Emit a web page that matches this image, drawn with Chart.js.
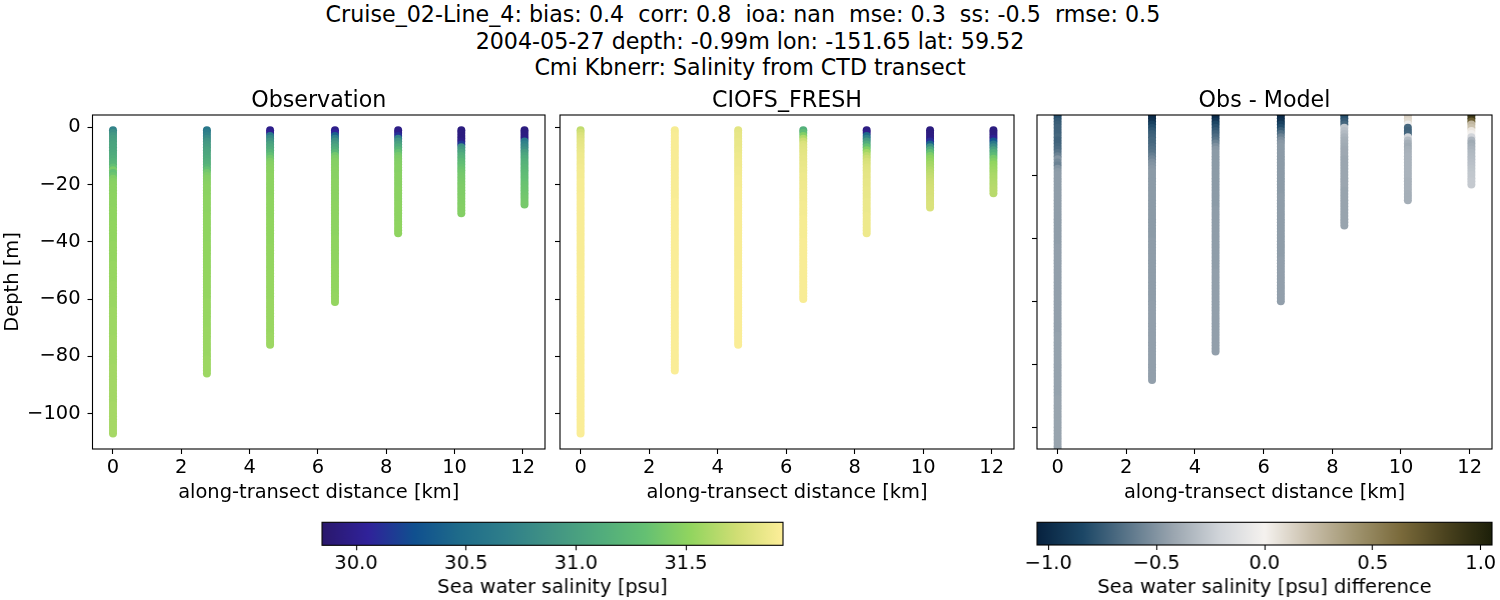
<!DOCTYPE html>
<html>
<head>
<meta charset="utf-8">
<style>
  html, body { margin: 0; padding: 0; background: #fff; width: 1500px; height: 600px; overflow: hidden; }
  canvas { position: absolute; }
  #suptitle { position: absolute; left: 0; top: 0; width: 1500px; text-align: center; white-space: pre;
    font: 22.2px/26.6px "DejaVu Sans"; color: #000; padding-top: 1px; }
</style>
<script src="https://cdn.jsdelivr.net/npm/chart.js@4/dist/chart.umd.js"></script>
</head>
<body>
<div id="suptitle">Cruise_02-Line_4: bias: 0.4  corr: 0.8  ioa: nan  mse: 0.3  ss: -0.5  rmse: 0.5  
2004-05-27 depth: -0.99m lon: -151.65 lat: 59.52
Cmi Kbnerr: Salinity from CTD transect</div>
<script>
const stationKm = [0, 2.75, 4.6, 6.5, 8.35, 10.2, 12.05];
const depthTicks = [0, -20, -40, -60, -80, -100];
const distanceTicks = [0, 2, 4, 6, 8, 10, 12];
const salinityTicks = [30, 30.5, 31, 31.5];
const differenceTicks = [-1, -0.5, 0, 0.5, 1];

// depth of the n-th sample in each cast
const depthLevels = [
  -1,-2,-3,-4,-5,-6,-7,-8,-9,-10,-11,-12,-13,-14,-15,-16,-17,-18,-19,-20,
  -21,-22,-23,-24,-25,-26,-27,-28,-29,-30,-31,-32,-33,-34,-35,-36,-37,-38,-39,-40,
  -41,-42,-43,-44,-45,-46,-47,-48,-49,-50,-51,-52,-53,-54,-55,-56,-57,-58,-59,-60,
  -61,-62,-63,-64,-65,-66,-67,-68,-69,-70,-71,-72,-73,-74,-75,-76,-77,-78,-79,-80,
  -81,-82,-83,-84,-85,-86,-87,-88,-89,-90,-91,-92,-93,-94,-95,-96,-97,-98,-99,-100,
  -101,-102,-103,-104,-105,-106,-107
];

const obsCast0 = [
  30.72,30.85,30.93,30.98,31.0,31.03,31.05,31.06,31.08,31.1,
  31.13,31.17,31.2,31.3,31.42,31.3,31.35,31.44,31.47,31.48,
  31.49,31.49,31.49,31.5,31.5,31.5,31.5,31.5,31.51,31.51,
  31.51,31.51,31.51,31.52,31.52,31.52,31.52,31.52,31.52,31.52,
  31.53,31.53,31.53,31.53,31.53,31.53,31.53,31.54,31.54,31.54,
  31.54,31.54,31.54,31.54,31.55,31.55,31.55,31.55,31.55,31.55,
  31.55,31.55,31.55,31.56,31.56,31.56,31.56,31.56,31.56,31.56,
  31.56,31.56,31.56,31.57,31.57,31.57,31.57,31.57,31.57,31.57,
  31.57,31.57,31.57,31.58,31.58,31.58,31.58,31.58,31.58,31.58,
  31.58,31.58,31.58,31.58,31.58,31.58,31.59,31.59,31.59,31.59,
  31.59,31.59,31.59,31.59,31.59,31.59,31.59
];
const obsCast1 = [
  30.6,30.66,30.72,30.8,30.88,30.93,30.97,31.01,31.04,31.06,
  31.09,31.12,31.15,31.2,31.3,31.38,31.43,31.46,31.47,31.48,
  31.49,31.49,31.49,31.49,31.5,31.5,31.5,31.5,31.5,31.5,
  31.51,31.51,31.51,31.51,31.51,31.51,31.51,31.51,31.51,31.51,
  31.52,31.52,31.52,31.52,31.52,31.52,31.52,31.52,31.52,31.52,
  31.53,31.53,31.53,31.53,31.53,31.53,31.53,31.53,31.53,31.53,
  31.54,31.54,31.54,31.54,31.54,31.54,31.54,31.54,31.54,31.54,
  31.55,31.55,31.55,31.55,31.55,31.55,31.55,31.55,31.55,31.55,
  31.56,31.56,31.56,31.56,31.56,31.56
];
const obsCast2 = [
  29.98,30.02,30.62,30.78,30.9,31.0,31.07,31.12,31.2,31.3,
  31.38,31.44,31.47,31.48,31.49,31.49,31.5,31.5,31.5,31.5,
  31.5,31.5,31.5,31.5,31.51,31.51,31.51,31.51,31.51,31.51,
  31.51,31.51,31.52,31.52,31.52,31.52,31.52,31.52,31.52,31.52,
  31.52,31.53,31.53,31.53,31.53,31.53,31.53,31.53,31.53,31.53,
  31.54,31.54,31.54,31.54,31.54,31.54,31.54,31.54,31.54,31.54,
  31.55,31.55,31.55,31.55,31.55,31.55,31.55,31.55,31.55,31.55,
  31.55,31.55,31.56,31.56,31.56,31.56
];
const obsCast3 = [
  29.98,30.05,30.4,30.68,30.85,30.95,31.05,31.12,31.22,31.38,
  31.43,31.46,31.47,31.47,31.48,31.48,31.48,31.48,31.49,31.49,
  31.49,31.49,31.49,31.49,31.49,31.49,31.5,31.5,31.5,31.5,
  31.5,31.5,31.5,31.5,31.5,31.5,31.5,31.5,31.51,31.51,
  31.51,31.51,31.51,31.51,31.51,31.51,31.51,31.51,31.52,31.52,
  31.52,31.52,31.52,31.52,31.52,31.52,31.52,31.52,31.53,31.53,
  31.53
];
const obsCast4 = [
  29.97,29.98,30.12,30.7,30.9,31.0,31.1,31.2,31.32,31.4,
  31.43,31.45,31.46,31.47,31.47,31.47,31.48,31.48,31.48,31.48,
  31.48,31.49,31.49,31.49,31.49,31.49,31.5,31.5,31.5,31.5,
  31.5,31.5,31.5,31.51,31.51,31.51,31.51
];
const obsCast5 = [
  29.93,29.93,29.93,29.93,29.97,30.15,30.85,30.95,31.05,31.13,
  31.18,31.24,31.28,31.32,31.35,31.37,31.39,31.4,31.41,31.42,
  31.43,31.43,31.44,31.44,31.45,31.45,31.45,31.46,31.46,31.46
];
const obsCast6 = [
  29.93,29.93,29.94,29.96,30.6,30.7,30.78,30.86,30.98,31.05,
  31.1,31.14,31.17,31.2,31.22,31.25,31.27,31.29,31.31,31.33,
  31.34,31.35,31.36,31.37,31.38,31.39,31.4
];

const modelCast0 = [
  31.68,31.74,31.78,31.8,31.82,31.83,31.84,31.85,31.86,31.87,
  31.87,31.88,31.88,31.89,31.89,31.9,31.9,31.9,31.91,31.91,
  31.91,31.91,31.91,31.92,31.92,31.92,31.92,31.92,31.92,31.92,
  31.92,31.92,31.92,31.92,31.92,31.92,31.92,31.92,31.92,31.92,
  31.92,31.92,31.92,31.92,31.92,31.92,31.92,31.92,31.92,31.92,
  31.93,31.93,31.93,31.93,31.93,31.93,31.93,31.93,31.93,31.93,
  31.93,31.93,31.93,31.93,31.93,31.93,31.93,31.93,31.93,31.93,
  31.93,31.93,31.93,31.93,31.93,31.93,31.93,31.93,31.93,31.93,
  31.93,31.93,31.93,31.93,31.93,31.93,31.93,31.93,31.93,31.93,
  31.93,31.93,31.93,31.93,31.93,31.93,31.93,31.93,31.93,31.93,
  31.93,31.93,31.93,31.93,31.93,31.93,31.93
];
const modelCast1 = [
  31.91,31.91,31.92,31.92,31.92,31.92,31.92,31.92,31.92,31.92,
  31.92,31.92,31.92,31.92,31.92,31.92,31.92,31.92,31.92,31.92,
  31.92,31.92,31.92,31.92,31.92,31.93,31.93,31.93,31.93,31.93,
  31.93,31.93,31.93,31.93,31.93,31.93,31.93,31.93,31.93,31.93,
  31.93,31.93,31.93,31.93,31.93,31.93,31.93,31.93,31.93,31.93,
  31.93,31.93,31.93,31.93,31.93,31.93,31.93,31.93,31.93,31.93,
  31.93,31.93,31.93,31.93,31.93,31.93,31.93,31.93,31.93,31.93,
  31.93,31.93,31.93,31.93,31.93,31.93,31.93,31.93,31.93,31.93,
  31.93,31.93,31.93,31.93,31.93
];
const modelCast2 = [
  31.82,31.83,31.84,31.84,31.85,31.85,31.85,31.86,31.86,31.87,
  31.87,31.88,31.88,31.88,31.89,31.89,31.89,31.9,31.9,31.9,
  31.9,31.91,31.91,31.91,31.91,31.91,31.92,31.92,31.92,31.92,
  31.92,31.92,31.92,31.92,31.92,31.92,31.92,31.92,31.92,31.92,
  31.92,31.92,31.92,31.92,31.92,31.92,31.92,31.92,31.92,31.92,
  31.93,31.93,31.93,31.93,31.93,31.93,31.93,31.93,31.93,31.93,
  31.93,31.93,31.93,31.93,31.93,31.93,31.93,31.93,31.93,31.93,
  31.93,31.93,31.93,31.93,31.93,31.93
];
const modelCast3 = [
  31.15,31.28,31.45,31.62,31.72,31.78,31.8,31.81,31.82,31.83,
  31.84,31.84,31.85,31.85,31.86,31.86,31.87,31.87,31.87,31.88,
  31.88,31.88,31.89,31.89,31.89,31.89,31.9,31.9,31.9,31.9,
  31.9,31.91,31.91,31.91,31.91,31.91,31.91,31.91,31.91,31.92,
  31.92,31.92,31.92,31.92,31.92,31.92,31.92,31.92,31.92,31.92,
  31.92,31.92,31.92,31.92,31.92,31.92,31.92,31.92,31.92,31.92
];
const modelCast4 = [
  29.95,29.98,30.45,30.7,30.95,31.1,31.3,31.45,31.58,31.66,
  31.72,31.76,31.78,31.8,31.81,31.82,31.83,31.83,31.84,31.84,
  31.84,31.85,31.85,31.85,31.85,31.86,31.86,31.86,31.86,31.86,
  31.87,31.87,31.87,31.87,31.87,31.87,31.87
];
const modelCast5 = [
  29.93,29.93,29.94,29.96,30.1,30.4,30.85,31.1,31.3,31.43,
  31.5,31.54,31.58,31.6,31.63,31.66,31.68,31.7,31.72,31.73,
  31.74,31.75,31.76,31.76,31.77,31.77,31.78,31.78
];
const modelCast6 = [
  29.93,29.93,29.94,30.02,30.3,30.6,30.8,31.0,31.15,31.25,
  31.4,31.46,31.52,31.54,31.56,31.58,31.6,31.61,31.62,31.63,
  31.64,31.65,31.65
];

const diffCast0 = [
  -0.9,-0.8,-0.76,-0.74,-0.72,-0.72,-0.72,-0.7,-0.72,-0.72,
  -0.7,-0.68,-0.64,-0.58,-0.5,-0.55,-0.58,-0.5,-0.47,-0.46,
  -0.46,-0.46,-0.46,-0.46,-0.46,-0.46,-0.46,-0.46,-0.46,-0.46,
  -0.46,-0.46,-0.46,-0.46,-0.46,-0.46,-0.46,-0.46,-0.46,-0.46,
  -0.46,-0.46,-0.45,-0.45,-0.45,-0.45,-0.45,-0.45,-0.45,-0.45,
  -0.45,-0.45,-0.45,-0.45,-0.45,-0.45,-0.45,-0.45,-0.45,-0.45,
  -0.45,-0.45,-0.45,-0.45,-0.45,-0.45,-0.45,-0.45,-0.45,-0.45,
  -0.44,-0.44,-0.44,-0.44,-0.44,-0.44,-0.44,-0.44,-0.44,-0.44,
  -0.44,-0.44,-0.44,-0.44,-0.44,-0.44,-0.44,-0.44,-0.44,-0.44,
  -0.43,-0.43,-0.43,-0.43,-0.43,-0.43,-0.43,-0.43,-0.43,-0.43,
  -0.43,-0.43,-0.43,-0.43,-0.43,-0.43,-0.43
];
const diffCast1 = [
  -1.02,-1.0,-0.96,-0.88,-0.82,-0.78,-0.74,-0.72,-0.7,-0.7,
  -0.68,-0.66,-0.64,-0.6,-0.56,-0.52,-0.5,-0.48,-0.47,-0.47,
  -0.47,-0.47,-0.47,-0.47,-0.47,-0.47,-0.47,-0.47,-0.47,-0.47,
  -0.47,-0.47,-0.47,-0.47,-0.47,-0.47,-0.47,-0.47,-0.47,-0.47,
  -0.46,-0.46,-0.46,-0.46,-0.46,-0.46,-0.46,-0.46,-0.46,-0.46,
  -0.46,-0.46,-0.46,-0.46,-0.46,-0.46,-0.46,-0.46,-0.46,-0.46,
  -0.45,-0.45,-0.45,-0.45,-0.45,-0.45,-0.45,-0.45,-0.45,-0.45,
  -0.45,-0.45,-0.45,-0.45,-0.45,-0.45,-0.45,-0.45,-0.45,-0.45,
  -0.45,-0.45,-0.45,-0.45,-0.45
];
const diffCast2 = [
  -1.03,-1.0,-0.93,-0.85,-0.8,-0.76,-0.72,-0.68,-0.64,-0.58,
  -0.52,-0.48,-0.47,-0.47,-0.47,-0.47,-0.47,-0.47,-0.47,-0.47,
  -0.47,-0.47,-0.47,-0.47,-0.47,-0.47,-0.47,-0.47,-0.47,-0.47,
  -0.46,-0.46,-0.46,-0.46,-0.46,-0.46,-0.46,-0.46,-0.46,-0.46,
  -0.46,-0.46,-0.46,-0.46,-0.46,-0.46,-0.46,-0.46,-0.46,-0.46,
  -0.45,-0.45,-0.45,-0.45,-0.45,-0.45,-0.45,-0.45,-0.45,-0.45,
  -0.45,-0.45,-0.45,-0.45,-0.45,-0.45,-0.45,-0.45,-0.45,-0.45,
  -0.45,-0.45,-0.45,-0.45,-0.45,-0.45
];
const diffCast3 = [
  -1.03,-1.0,-0.96,-0.88,-0.82,-0.74,-0.66,-0.58,-0.52,-0.48,
  -0.47,-0.47,-0.47,-0.47,-0.47,-0.47,-0.47,-0.47,-0.47,-0.47,
  -0.47,-0.47,-0.47,-0.47,-0.47,-0.47,-0.46,-0.46,-0.46,-0.46,
  -0.46,-0.46,-0.46,-0.46,-0.46,-0.46,-0.46,-0.46,-0.46,-0.46,
  -0.46,-0.46,-0.46,-0.46,-0.46,-0.46,-0.45,-0.45,-0.45,-0.45,
  -0.45,-0.45,-0.45,-0.45,-0.45,-0.45,-0.45,-0.45,-0.45,-0.45
];
const diffCast4 = [
  -0.85,-0.8,-0.75,-0.7,-0.27,-0.3,-0.33,-0.36,-0.38,-0.39,
  -0.4,-0.41,-0.41,-0.41,-0.42,-0.42,-0.42,-0.42,-0.42,-0.42,
  -0.42,-0.42,-0.42,-0.42,-0.43,-0.43,-0.43,-0.43,-0.43,-0.43,
  -0.43,-0.43,-0.43,-0.43,-0.43,-0.43
];
const diffCast5 = [
  0.15,0.13,0.1,-0.05,-0.7,-0.72,-0.7,-0.2,-0.32,-0.38,
  -0.4,-0.38,-0.37,-0.36,-0.36,-0.36,-0.36,-0.36,-0.36,-0.36,
  -0.36,-0.37,-0.37,-0.37,-0.37,-0.38,-0.38,-0.38
];
const diffCast6 = [
  0.95,0.9,0.7,0.25,0.2,0.05,-0.02,-0.2,-0.35,-0.4,
  -0.38,-0.36,-0.34,-0.33,-0.32,-0.31,-0.3,-0.29,-0.28,-0.27,
  -0.27,-0.26,-0.26
];

const obsCasts = [obsCast0, obsCast1, obsCast2, obsCast3, obsCast4, obsCast5, obsCast6];
const modelCasts = [modelCast0, modelCast1, modelCast2, modelCast3, modelCast4, modelCast5, modelCast6];
const diffCasts = [diffCast0, diffCast1, diffCast2, diffCast3, diffCast4, diffCast5, diffCast6];

// colormaps, evenly spaced from low to high
const halineColors = ["#2a186c", "#30229a", "#10508f", "#1f6c8a", "#2f7f8a", "#429484", "#50ab7d", "#64c073", "#92d55f", "#d0de74", "#fdee99"];
const diffColors = ["#07223f", "#1c4766", "#5b768a", "#9ba6b0", "#d0d4d9", "#f5f2ef", "#c9bfab", "#a0946f", "#7a6a3b", "#4a421e", "#1c1f09"];
const salinityRange = [29.845, 31.942];
const differenceRange = [-1.052, 1.052];

const fontFamily = "DejaVu Sans";
const tickFontSize = 19.44;
const titleFontSize = 22.2;

function hexToRgb(hex) {
  const n = parseInt(hex.slice(1), 16);
  return [n >> 16, (n >> 8) & 255, n & 255];
}

function cmap(colors, range, value) {
  let t = (value - range[0]) / (range[1] - range[0]);
  t = Math.min(1, Math.max(0, t)) * (colors.length - 1);
  const i = Math.min(colors.length - 2, Math.floor(t));
  const a = hexToRgb(colors[i]);
  const b = hexToRgb(colors[i + 1]);
  const f = t - i;
  return `rgb(${a[0] + (b[0] - a[0]) * f},${a[1] + (b[1] - a[1]) * f},${a[2] + (b[2] - a[2]) * f})`;
}

function tickText(v, digits) {
  const s = Math.abs(v).toFixed(digits);
  return v < 0 ? "\u2212" + s : s;
}

function addCanvas(left, top, width, height) {
  const canvas = document.createElement("canvas");
  canvas.width = width;
  canvas.height = height;
  canvas.style.left = left + "px";
  canvas.style.top = top + "px";
  canvas.style.width = width + "px";
  canvas.style.height = height + "px";
  document.body.appendChild(canvas);
  return canvas;
}

const frame = {
  id: "frame",
  afterDraw(chart) {
    const a = chart.chartArea;
    const ctx = chart.ctx;
    ctx.save();
    ctx.strokeStyle = "#000";
    ctx.lineWidth = 1.1;
    ctx.strokeRect(a.left, a.top, a.right - a.left, a.bottom - a.top);
    ctx.restore();
  },
};

function tickGrid() {
  return { drawOnChartArea: false, drawTicks: true, tickLength: 5, tickWidth: 1.1, tickColor: "#000" };
}

function drawPanel(opts) {
  const canvasTop = 115 - 33;
  const canvasLeft = opts.canvasLeft;
  const axisWidth = opts.left - canvasLeft;
  const canvas = addCanvas(canvasLeft, canvasTop, opts.right + 8 - canvasLeft, 515 - canvasTop);
  const datasets = stationKm.map((km, s) => ({
    data: opts.casts[s].map((v, i) => ({ x: km, y: depthLevels[i] })),
    pointBackgroundColor: opts.casts[s].map((v) => cmap(opts.colors, opts.range, v)),
    pointBorderWidth: 0,
    pointRadius: 4,
    showLine: false,
    clip: 0,
  }));
  new Chart(canvas, {
    type: "scatter",
    data: { datasets },
    plugins: [frame],
    options: {
      responsive: false,
      animation: false,
      devicePixelRatio: 1,
      layout: { autoPadding: false, padding: { top: 0, right: 8, bottom: 0, left: 0 } },
      plugins: {
        legend: { display: false },
        tooltip: { enabled: false },
        title: {
          display: true,
          fullSize: false,
          text: opts.title,
          color: "#000",
          font: { family: fontFamily, size: titleFontSize, weight: "normal", lineHeight: 1.2 },
          padding: { top: 6, bottom: 0.36 },
        },
      },
      scales: {
        x: {
          type: "linear",
          min: -0.6,
          max: 12.65,
          border: { display: false },
          grid: tickGrid(),
          afterBuildTicks(scale) { scale.ticks = distanceTicks.map((value) => ({ value })); },
          afterFit(scale) { scale.height = 515 - 449; },
          ticks: {
            autoSkip: false, maxRotation: 0, color: "#000", padding: 2,
            font: { family: fontFamily, size: tickFontSize },
            callback: (v) => tickText(v, 0),
          },
          title: {
            display: true,
            text: "along-transect distance [km]",
            color: "#000",
            font: { family: fontFamily, size: tickFontSize },
            padding: { top: 0, bottom: 10 },
          },
        },
        y: {
          type: "linear",
          min: opts.yMin,
          max: opts.yMax,
          border: { display: false },
          grid: tickGrid(),
          afterBuildTicks(scale) { scale.ticks = opts.yTicks.map((value) => ({ value })); },
          afterFit(scale) { scale.width = axisWidth; },
          ticks: {
            autoSkip: false, maxRotation: 0, color: "#000", padding: 7,
            font: { family: fontFamily, size: tickFontSize },
            callback: (v) => (opts.yLabels ? tickText(v, 0) : ""),
          },
          title: {
            display: opts.yLabels,
            text: "Depth [m]",
            color: "#000",
            font: { family: fontFamily, size: tickFontSize },
            padding: { top: 1, bottom: 0 },
          },
        },
      },
    },
  });
}

function drawColorbar(opts) {
  const canvasLeft = opts.left - 30;
  const canvasTop = 510;
  const canvas = addCanvas(canvasLeft, canvasTop, opts.right + 14 - canvasLeft, 600 - canvasTop);
  const gradientBar = {
    id: "gradientBar",
    beforeDatasetsDraw(chart) {
      const a = chart.chartArea;
      const g = chart.ctx.createLinearGradient(a.left, 0, a.right, 0);
      opts.colors.forEach((c, i) => g.addColorStop(i / (opts.colors.length - 1), c));
      chart.ctx.fillStyle = g;
      chart.ctx.fillRect(a.left, a.top, a.right - a.left, a.bottom - a.top);
    },
  };
  new Chart(canvas, {
    type: "scatter",
    data: { datasets: [{ data: [] }] },
    plugins: [gradientBar, frame],
    options: {
      responsive: false,
      animation: false,
      devicePixelRatio: 1,
      layout: { autoPadding: false, padding: { top: opts.top - canvasTop, right: 14, bottom: 0, left: 30 } },
      plugins: { legend: { display: false }, tooltip: { enabled: false } },
      scales: {
        x: {
          type: "linear",
          min: opts.range[0],
          max: opts.range[1],
          border: { display: false },
          grid: tickGrid(),
          afterBuildTicks(scale) { scale.ticks = opts.ticks.map((value) => ({ value })); },
          afterFit(scale) { scale.height = 600 - opts.bottom; },
          ticks: {
            autoSkip: false, maxRotation: 0, color: "#000", padding: 2,
            font: { family: fontFamily, size: tickFontSize },
            callback: (v) => tickText(v, 1),
          },
          title: {
            display: true,
            text: opts.label,
            color: "#000",
            font: { family: fontFamily, size: tickFontSize },
            padding: { top: 0, bottom: 0 },
          },
        },
        y: { display: false, min: 0, max: 1 },
      },
    },
  });
}

drawPanel({
  title: "Observation", casts: obsCasts, colors: halineColors, range: salinityRange,
  canvasLeft: 0, left: 92.5, right: 545, yMin: -112.4, yMax: 4.3, yTicks: depthTicks, yLabels: true,
});
drawPanel({
  title: "CIOFS_FRESH", casts: modelCasts, colors: halineColors, range: salinityRange,
  canvasLeft: 540, left: 560, right: 1014, yMin: -112.4, yMax: 4.3, yTicks: depthTicks, yLabels: false,
});
drawPanel({
  title: "Obs - Model", casts: diffCasts, colors: diffColors, range: differenceRange,
  canvasLeft: 1017, left: 1037, right: 1492, yMin: -106.9, yMax: -0.95,
  yTicks: depthTicks.slice(1), yLabels: false,
});

drawColorbar({
  label: "Sea water salinity [psu]", colors: halineColors, range: salinityRange, ticks: salinityTicks,
  left: 322.3, right: 783.3, top: 522.3, bottom: 545.3,
});
drawColorbar({
  label: "Sea water salinity [psu] difference", colors: diffColors, range: differenceRange, ticks: differenceTicks,
  left: 1037, right: 1491.7, top: 522.3, bottom: 545,
});
</script>
</body>
</html>
